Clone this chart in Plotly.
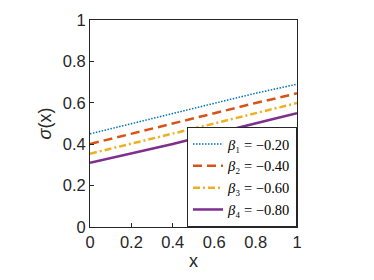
import plotly.graph_objects as go

x_vals = [0.0, 0.1, 0.2, 0.3, 0.4, 0.5, 0.6, 0.7, 0.8, 0.9, 1.0]
beta1 = [0.450, 0.475, 0.500, 0.525, 0.550, 0.574, 0.599, 0.622, 0.646, 0.668, 0.690]
beta2 = [0.401, 0.426, 0.450, 0.475, 0.500, 0.525, 0.550, 0.574, 0.599, 0.622, 0.646]
beta3 = [0.354, 0.378, 0.401, 0.426, 0.450, 0.475, 0.500, 0.525, 0.550, 0.574, 0.599]
beta4 = [0.310, 0.332, 0.354, 0.378, 0.401, 0.426, 0.450, 0.475, 0.500, 0.525, 0.550]
names = ["<i>β</i>₁ = −0.20", "<i>β</i>₂ = −0.40",
         "<i>β</i>₃ = −0.60", "<i>β</i>₄ = −0.80"]
tick_vals = [0, 0.2, 0.4, 0.6, 0.8, 1]
tick_text = ["0", "0.2", "0.4", "0.6", "0.8", "1"]

colors = ["#0072BD", "#D95319", "#EDB120", "#7E2F8E"]
styles = [("1.5px,1.5px", 1.5), ("9px,5px", 2.5), ("7px,3px,2px,3px", 2.5), ("solid", 2.5)]

fig = go.Figure()
for ys, nm, c, (d, w) in zip([beta1, beta2, beta3, beta4], names, colors, styles):
    fig.add_trace(go.Scatter(x=x_vals, y=ys, mode="lines", name=nm,
                             line=dict(color=c, dash=d, width=w)))

sans = "Liberation Sans, Arial, sans-serif"
axis_common = dict(
    range=[0, 1], tickvals=tick_vals, ticktext=tick_text,
    ticks="inside", ticklen=4, tickcolor="#262626",
    showline=True, linecolor="#262626", linewidth=1, mirror=True,
    showgrid=False, zeroline=False, automargin=False,
    tickfont=dict(family=sans, size=16.5, color="#262626"),
)

fig.update_layout(
    width=366, height=272,
    margin=dict(l=82, r=77, t=12, b=53),
    paper_bgcolor="white", plot_bgcolor="white",
    xaxis=dict(**axis_common,
               title=dict(text="x", font=dict(family=sans, size=18, color="#262626"), standoff=4)),
    yaxis=dict(**axis_common,
               title=dict(text="<i>σ</i>(x)", font=dict(family=sans, size=18, color="#262626"), standoff=6)),
    legend=dict(x=1, xanchor="right", y=0, yanchor="bottom",
                bgcolor="white", bordercolor="#262626", borderwidth=1,
                font=dict(family="Liberation Serif, DejaVu Serif, serif", size=14.5, color="black"),
                tracegroupgap=0, itemwidth=30),
    showlegend=True,
)

fig.write_html("out.html")
